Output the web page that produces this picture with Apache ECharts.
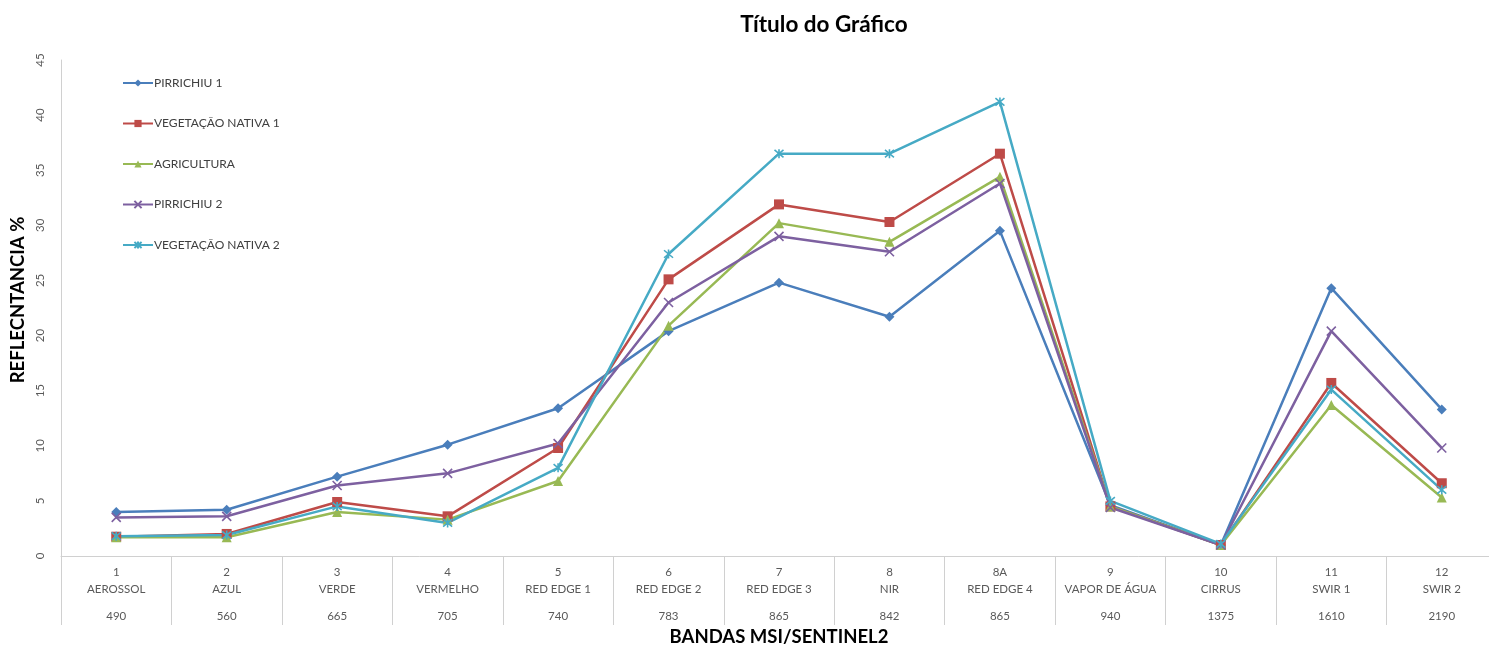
<!DOCTYPE html>
<html>
<head>
<meta charset="utf-8">
<script src="https://cdn.jsdelivr.net/npm/echarts@6/dist/echarts.min.js"></script>
<style>
  html, body { margin: 0; padding: 0; background: #fff; overflow: hidden; }
  #chart { width: 1500px; height: 646px; }
</style>
</head>
<body>
<div id="chart"></div>
<script>
// Band numbers, names and central wavelengths (nm)
const bandNumbers = ['1', '2', '3', '4', '5', '6', '7', '8', '8A', '9', '10', '11', '12'];
const bandNames = ['AEROSSOL', 'AZUL', 'VERDE', 'VERMELHO', 'RED EDGE 1', 'RED EDGE 2', 'RED EDGE 3', 'NIR', 'RED EDGE 4', 'VAPOR DE ÁGUA', 'CIRRUS', 'SWIR 1', 'SWIR 2'];
const wavelengths = ['490', '560', '665', '705', '740', '783', '865', '842', '865', '940', '1375', '1610', '2190'];

// Reflectance (%) per band
const pirrichiu1 = [4.0, 4.2, 7.2, 10.1, 13.4, 20.4, 24.8, 21.7, 29.5, 4.6, 1.0, 24.3, 13.3];
const vegetacaoNativa1 = [1.75, 2.0, 4.9, 3.6, 9.8, 25.1, 31.9, 30.3, 36.5, 4.5, 1.0, 15.7, 6.6];
const agricultura = [1.7, 1.7, 4.0, 3.3, 6.8, 20.9, 30.2, 28.5, 34.4, 4.5, 1.0, 13.7, 5.3];
const pirrichiu2 = [3.5, 3.6, 6.4, 7.5, 10.2, 23.0, 29.0, 27.6, 33.8, 4.4, 1.0, 20.4, 9.8];
const vegetacaoNativa2 = [1.8, 1.9, 4.5, 3.0, 8.0, 27.4, 36.5, 36.5, 41.2, 5.0, 1.1, 15.1, 6.0];

const yTicks = { min: 0, max: 45, interval: 5 };

const categories = bandNumbers.map((n, i) => n + '|' + i);

const FONT = 'Lato, "Open Sans", sans-serif';
const xMark = 'path://M0,0L10,10M10,0L0,10';
const starMark = 'path://M0,0L10,10M10,0L0,10M5,-1L5,11';

function lineSeries(name, data, color, symbol, size, stroked) {
  return {
    name: name,
    type: 'line',
    data: data,
    symbol: symbol,
    symbolSize: size,
    showSymbol: true,
    lineStyle: { color: color, width: 2.5 },
    itemStyle: stroked
      ? { color: 'rgba(0,0,0,0)', borderColor: color, borderWidth: 1.6 }
      : { color: color },
    emphasis: { disabled: true },
    z: 2
  };
}

const chart = echarts.init(document.getElementById('chart'), null, { renderer: 'canvas' });

chart.setOption({
  animation: false,
  backgroundColor: '#ffffff',
  title: {
    text: 'Título do Gráfico',
    left: 819,
    top: 8,
    textAlign: 'center',
    textStyle: { fontFamily: FONT, fontSize: 22.5, fontWeight: 'bold', color: '#000' }
  },
  legend: {
    orient: 'vertical',
    left: 117,
    top: 72,
    itemWidth: 30,
    itemHeight: 9,
    itemGap: 28.5,
    textStyle: { fontFamily: FONT, fontSize: 12, color: '#404040', padding: [0, 0, 0, -4] },
    data: ['PIRRICHIU 1', 'VEGETAÇÃO NATIVA 1', 'AGRICULTURA', 'PIRRICHIU 2', 'VEGETAÇÃO NATIVA 2']
  },
  grid: { left: 61, top: 60, width: 1436, height: 496 },
  xAxis: {
    type: 'category',
    data: categories,
    boundaryGap: true,
    axisLine: { show: true, lineStyle: { color: '#D0D0D0', width: 1 } },
    axisTick: { show: true, interval: 0, length: 69, inside: false, lineStyle: { color: '#D0D0D0', width: 1 } },
    axisLabel: {
      interval: 0,
      margin: 8,
      formatter: function (v) {
        const i = Number(v.split('|')[1]);
        return '{a|' + bandNumbers[i] + '}\n{a|' + bandNames[i] + '}\n{b|' + wavelengths[i] + '}';
      },
      rich: {
        a: { fontFamily: FONT, fontSize: 11.5, color: '#595959', lineHeight: 17, align: 'center' },
        b: { fontFamily: FONT, fontSize: 11.5, color: '#595959', lineHeight: 37, align: 'center' }
      }
    },
    splitLine: { show: false }
  },
  yAxis: {
    type: 'value',
    min: yTicks.min,
    max: yTicks.max,
    interval: yTicks.interval,
    axisLine: { show: true, lineStyle: { color: '#D0D0D0', width: 1 } },
    axisTick: { show: false },
    axisLabel: { rotate: 90, margin: 15, fontFamily: FONT, fontSize: 11.5, color: '#595959' },
    splitLine: { show: false }
  },
  graphic: [
    {
      type: 'line',
      shape: { x1: 61.5, y1: 556, x2: 61.5, y2: 625 },
      style: { stroke: '#D0D0D0', lineWidth: 1 },
      silent: true
    },
    {
      type: 'text',
      x: 779,
      y: 637,
      style: {
        text: 'BANDAS MSI/SENTINEL2',
        textAlign: 'center',
        textVerticalAlign: 'middle',
        font: 'bold 18.5px ' + FONT,
        fill: '#000'
      },
      silent: true
    },
    {
      type: 'text',
      x: 18,
      y: 300,
      rotation: Math.PI / 2,
      style: {
        text: 'REFLECNTANCIA %',
        textAlign: 'center',
        textVerticalAlign: 'middle',
        font: 'bold 18.5px ' + FONT,
        fill: '#000'
      },
      silent: true
    }
  ],
  series: [
    lineSeries('PIRRICHIU 1', pirrichiu1, '#4A7EBB', 'diamond', 10, false),
    lineSeries('VEGETAÇÃO NATIVA 1', vegetacaoNativa1, '#BE4B48', 'rect', 10, false),
    lineSeries('AGRICULTURA', agricultura, '#98B954', 'triangle', 10, false),
    lineSeries('PIRRICHIU 2', pirrichiu2, '#7D60A0', xMark, 9, true),
    lineSeries('VEGETAÇÃO NATIVA 2', vegetacaoNativa2, '#46AAC5', starMark, 9, true)
  ]
});
</script>
</body>
</html>
